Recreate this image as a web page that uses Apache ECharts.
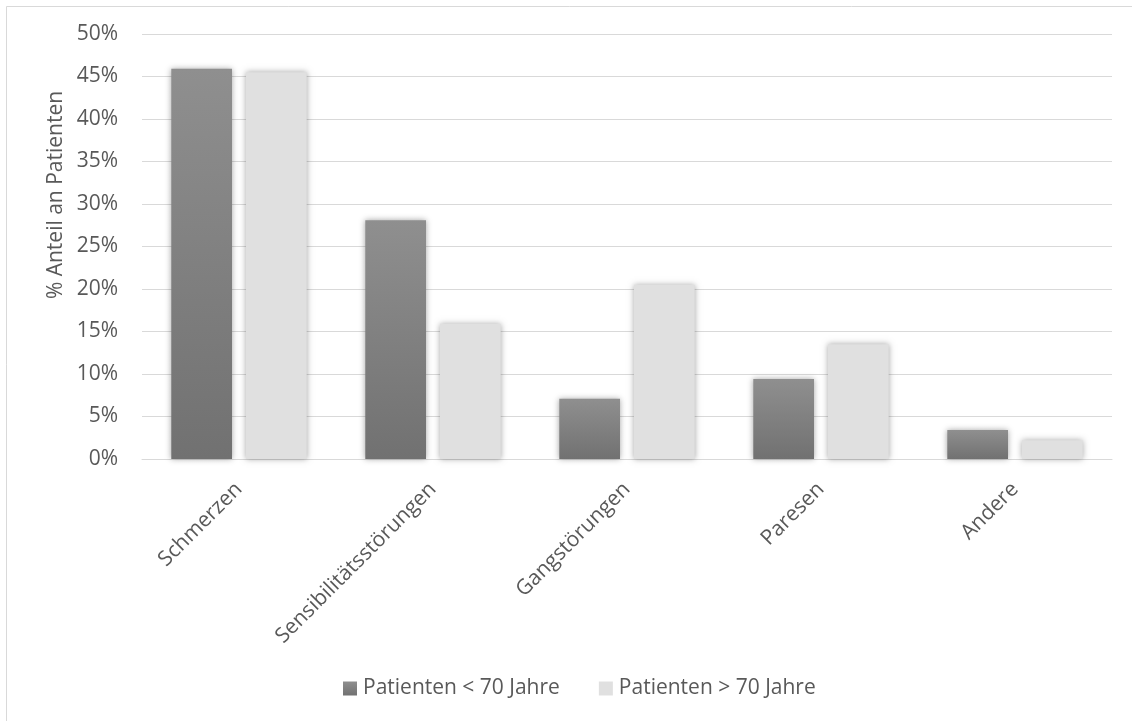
<!DOCTYPE html>
<html>
<head>
<meta charset="utf-8">
<script src="https://cdn.jsdelivr.net/npm/echarts@6/dist/echarts.min.js"></script>
<style>
  html, body { margin: 0; padding: 0; background: #ffffff; }
  #chart { width: 1132px; height: 721px; }
</style>
</head>
<body>
<div id="chart"></div>
<script>
// Symptom categories and share of patients (in %) per age group
const categories = ['Schmerzen', 'Sensibilitätsstörungen', 'Gangstörungen', 'Paresen', 'Andere'];
const seriesNames = ['Patienten < 70 Jahre', 'Patienten > 70 Jahre'];
const under70 = [45.9, 28.1, 7.1, 9.4, 3.4];
const over70 = [45.5, 15.9, 20.5, 13.5, 2.2];
const yTicks = { min: 0, max: 50, interval: 5 };
const yTitle = '% Anteil an Patienten';

const FONT = 'Open Sans';
const FS = 21;
const TEXT = '#595959';
const GRID = '#d9d9d9';

const darkFill = new echarts.graphic.LinearGradient(0, 0, 0, 1, [
  { offset: 0, color: '#8f8f8f' },
  { offset: 1, color: '#717171' }
]);
const lightFill = '#e0e0e0';

const barShadow = {
  shadowBlur: 6,
  shadowColor: 'rgba(0,0,0,0.35)',
  shadowOffsetX: 0,
  shadowOffsetY: 0
};

const chart = echarts.init(document.getElementById('chart'), null, { renderer: 'canvas' });

chart.setOption({
  animation: false,
  backgroundColor: '#ffffff',
  textStyle: { fontFamily: FONT, color: TEXT },
  graphic: [
    {
      // chart frame (only top and left edges fall inside the canvas)
      type: 'rect',
      shape: { x: 6.5, y: 6.5, width: 1200, height: 800 },
      style: { fill: 'none', stroke: GRID, lineWidth: 1 },
      silent: true
    },
    {
      // vertical axis title
      type: 'text',
      x: 56,
      y: 195,
      rotation: Math.PI / 2,
      style: {
        text: yTitle,
        fontFamily: FONT,
        fontSize: FS,
        fill: TEXT,
        align: 'center',
        verticalAlign: 'middle'
      },
      silent: true
    }
  ],
  grid: { left: 142, right: 20, top: 34, bottom: 262, containLabel: false },
  legend: {
    bottom: 17,
    left: 338,
    itemWidth: 14,
    itemHeight: 14,
    itemGap: 39,
    icon: 'rect',
    textStyle: { fontFamily: FONT, fontSize: FS, color: TEXT, padding: [0, 0, 0, 1] },
    data: seriesNames
  },
  xAxis: {
    type: 'category',
    data: categories,
    axisLine: { show: true, lineStyle: { color: GRID, width: 1 } },
    axisTick: { show: false },
    axisLabel: {
      rotate: 45,
      margin: 27,
      fontFamily: FONT,
      fontSize: FS,
      color: TEXT,
      interval: 0
    }
  },
  yAxis: {
    type: 'value',
    min: yTicks.min,
    max: yTicks.max,
    interval: yTicks.interval,
    axisLine: { show: false },
    axisTick: { show: false },
    axisLabel: {
      margin: 24,
      fontFamily: FONT,
      fontSize: FS,
      color: TEXT,
      formatter: v => v + '%'
    },
    splitLine: { lineStyle: { color: GRID, width: 1 } }
  },
  series: [
    {
      name: seriesNames[0],
      type: 'bar',
      data: under70,
      barWidth: '31.3%',
      barGap: '23%',
      itemStyle: Object.assign({ color: darkFill }, barShadow)
    },
    {
      name: seriesNames[1],
      type: 'bar',
      data: over70,
      barWidth: '31.3%',
      itemStyle: Object.assign({ color: lightFill }, barShadow)
    }
  ]
});
</script>
</body>
</html>
